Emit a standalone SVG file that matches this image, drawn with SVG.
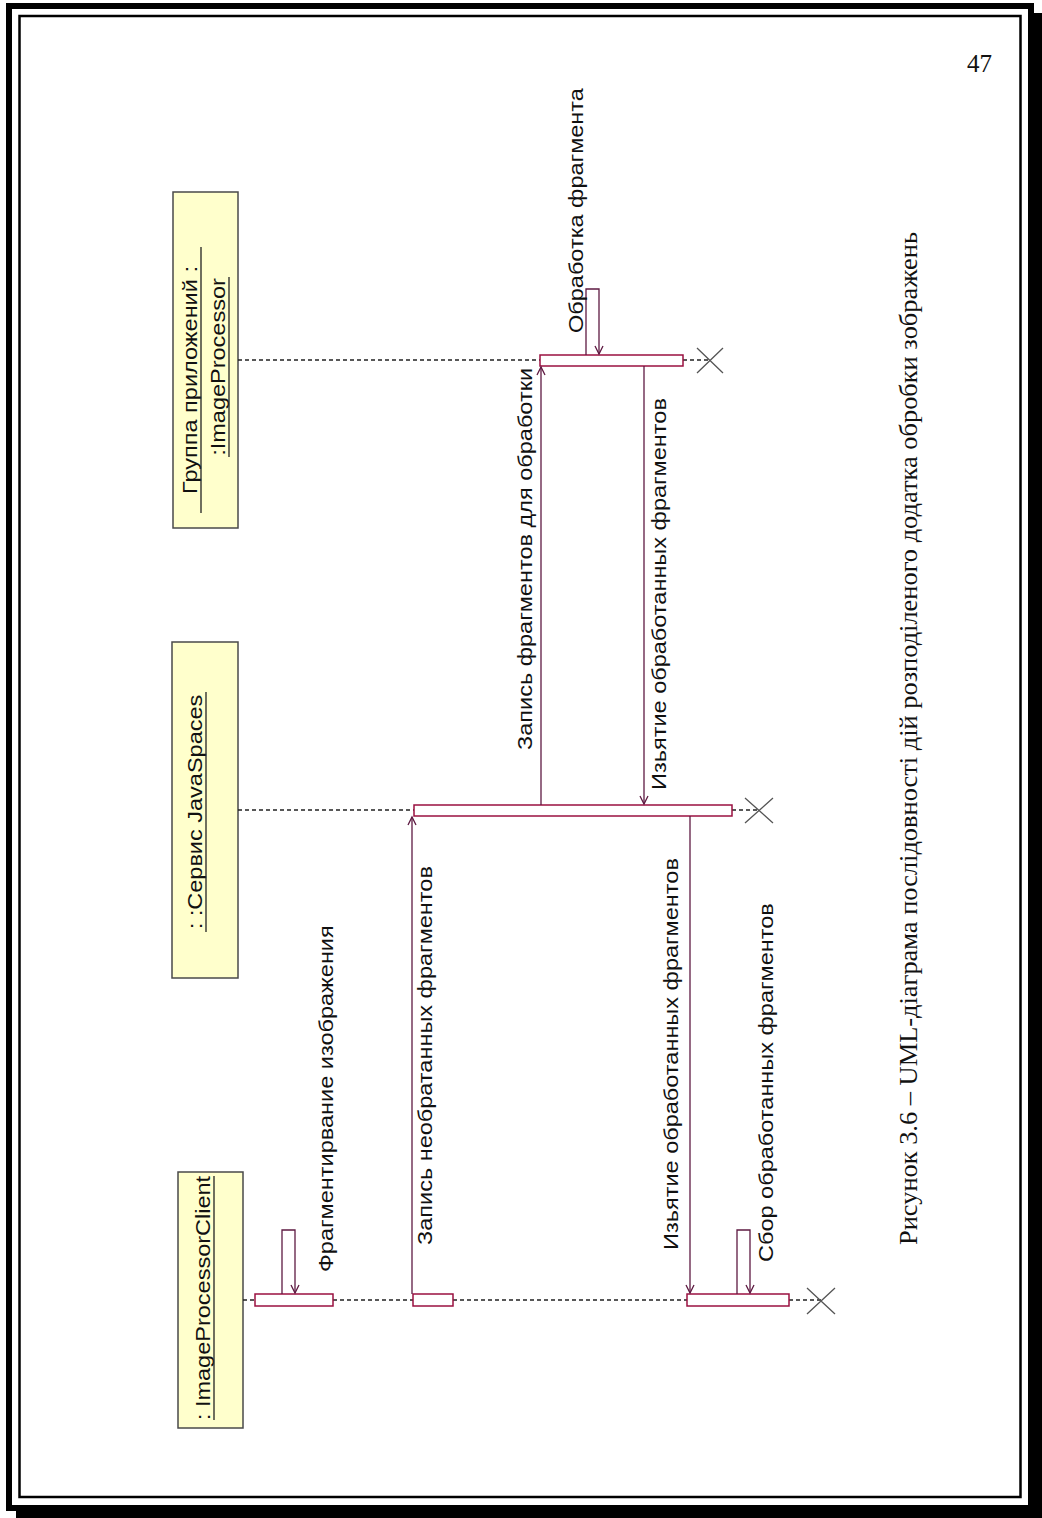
<svg xmlns="http://www.w3.org/2000/svg" width="1042" height="1518" viewBox="0 0 1042 1518">
<style>
.box{fill:#ffffcc;stroke:#4a4a4a;stroke-width:1.5}
.bar{fill:#ffffff;stroke:#9a1040;stroke-width:1.5}
.life{stroke:#222;stroke-width:1.3;stroke-dasharray:4 3;fill:none}
.msg{stroke:#5e1a42;stroke-width:1.3;fill:none}
.x{stroke:#555;stroke-width:1.3}
.ul{stroke:#222;stroke-width:1.3}
.t{font-family:"Liberation Sans",Arial,sans-serif;font-size:21px;fill:#111}
.cap{font-family:"Liberation Serif","Times New Roman",serif;font-size:25px;fill:#111}
</style>
<defs>
<marker id="arr" markerWidth="12" markerHeight="12" refX="9" refY="5" orient="auto" markerUnits="userSpaceOnUse">
<path d="M1,1 L9,5 L1,9" fill="none" stroke="#5e1a42" stroke-width="1.3"/>
</marker>
</defs>
<rect width="1042" height="1518" fill="#fff"/>
<g id="frame">
<rect x="9" y="6" width="1022" height="1502" fill="none" stroke="#000" stroke-width="6"/>
<rect x="1031" y="13" width="11" height="1505" fill="#000"/>
<rect x="16" y="1508" width="1026" height="10" fill="#000"/>
<rect x="19.5" y="16" width="1001" height="1481" fill="none" stroke="#000" stroke-width="2.5"/>
</g>
<text x="967" y="72" class="cap" font-size="27">47</text>

<g id="obj-imageprocessor">
<rect class="box" x="173" y="192" width="65" height="336"/>
<text class="t" text-anchor="middle" transform="translate(197,380) rotate(-90) scale(1.12,1)">Группа приложений :</text>
<line class="ul" x1="201" y1="513" x2="201" y2="247"/>
<text class="t" text-anchor="middle" transform="translate(225,367) rotate(-90) scale(1.12,1)">:ImageProcessor</text>
<line class="ul" x1="229" y1="457" x2="229" y2="277"/>
</g>
<g id="obj-javaspaces">
<rect class="box" x="172" y="642" width="66" height="336"/>
<text class="t" text-anchor="middle" transform="translate(202,812) rotate(-90) scale(1.12,1)">: :Сервис JavaSpaces</text>
<line class="ul" x1="206" y1="932" x2="206" y2="692"/>
</g>
<g id="obj-client">
<rect class="box" x="178" y="1172" width="65" height="256"/>
<text class="t" text-anchor="middle" transform="translate(210,1298) rotate(-90) scale(1.12,1)">: ImageProcessorClient</text>
<line class="ul" x1="214" y1="1420" x2="214" y2="1176"/>
</g>

<g id="lifelines">
<path class="life" d="M238,360 H540 M683,360 H710"/>
<path class="life" d="M238,810 H414 M732,810 H759"/>
<path class="life" d="M243,1300 H255 M333,1300 H413 M453,1300 H687 M789,1300 H821"/>
</g>

<g id="activations">
<rect class="bar" x="540" y="355" width="143" height="11"/>
<rect class="bar" x="414" y="805" width="318" height="11"/>
<rect class="bar" x="255" y="1294" width="78" height="12"/>
<rect class="bar" x="413" y="1294" width="40" height="12"/>
<rect class="bar" x="687" y="1294" width="102" height="12"/>
</g>

<g id="destroy">
<path class="x" d="M697,348 L723,373 M723,348 L697,373"/>
<path class="x" d="M745,798 L773,823 M773,798 L745,823"/>
<path class="x" d="M807,1288 L835,1314 M835,1288 L807,1314"/>
</g>

<g id="connectors">
<path class="msg" d="M282,1294 V1230 H295 V1293" marker-end="url(#arr)"/>
<path class="msg" d="M412,1294 V817" marker-end="url(#arr)"/>
<path class="msg" d="M541,805 V367" marker-end="url(#arr)"/>
<path class="msg" d="M586,355 V289 H599 V354" marker-end="url(#arr)"/>
<path class="msg" d="M644,366 V804" marker-end="url(#arr)"/>
<path class="msg" d="M690,816 V1293" marker-end="url(#arr)"/>
<path class="msg" d="M737,1294 V1230 H750 V1293" marker-end="url(#arr)"/>
</g>

<g id="labels">
<text class="t" transform="translate(333,1272) rotate(-90) scale(1.12,1)">Фрагментирвание изображения</text>
<text class="t" transform="translate(432,1245) rotate(-90) scale(1.12,1)">Запись необратанных фрагментов</text>
<text class="t" transform="translate(532,750) rotate(-90) scale(1.12,1)">Запись фрагментов для обработки</text>
<text class="t" transform="translate(583,333) rotate(-90) scale(1.12,1)">Обработка фрагмента</text>
<text class="t" transform="translate(666,790) rotate(-90) scale(1.12,1)">Изьятие обработанных фрагментов</text>
<text class="t" transform="translate(678,1250) rotate(-90) scale(1.12,1)">Изьятие обработанных фрагментов</text>
<text class="t" transform="translate(773,1262) rotate(-90) scale(1.12,1)">Сбор обработанных фрагментов</text>
</g>

<text class="cap" transform="translate(917,1245) rotate(-90)" textLength="1013" lengthAdjust="spacingAndGlyphs">Рисунок 3.6 – UML-діаграма послідовності дій розподіленого додатка обробки зображень</text>
</svg>
